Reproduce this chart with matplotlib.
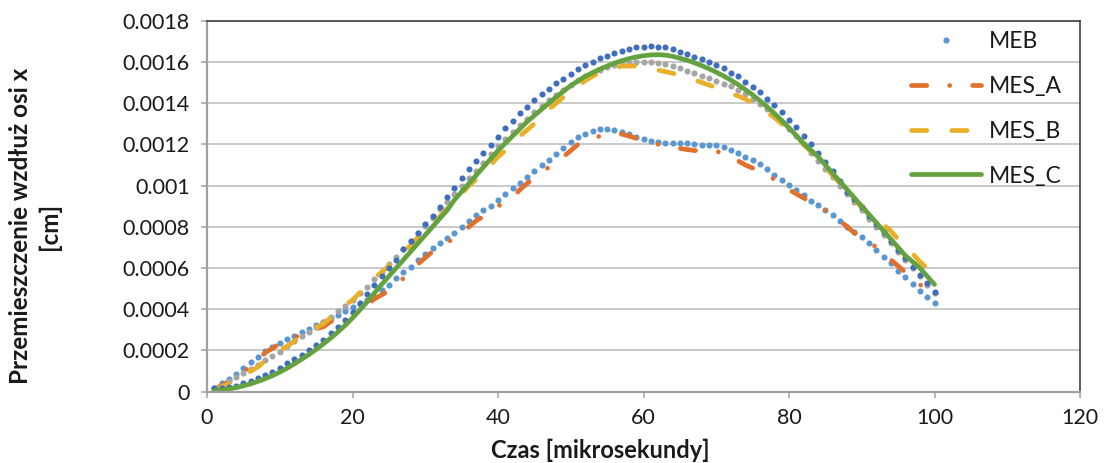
import matplotlib
matplotlib.use("Agg")
import matplotlib.pyplot as plt
from matplotlib.ticker import FixedLocator, FixedFormatter

plt.rcParams['font.family'] = ['Lato', 'DejaVu Sans']
plt.rcParams['lines.scale_dashes'] = False

# time [microseconds]
czas = list(range(1, 101))

meb = [0.00002, 0.00004, 0.00006, 0.000084, 0.000117, 0.000146, 0.00017, 0.000199, 0.000218, 0.000235,
       0.000254, 0.000272, 0.00029, 0.000306, 0.000322, 0.00034, 0.000357, 0.000374, 0.000392, 0.00041,
       0.000427, 0.000444, 0.000461, 0.000493, 0.00052, 0.00055, 0.00058, 0.000607, 0.00064, 0.00067,
       0.000696, 0.00072, 0.000744, 0.00077, 0.0008, 0.00083, 0.000855, 0.000882, 0.000903, 0.00093,
       0.000958, 0.000987, 0.001014, 0.001042, 0.001071, 0.001098, 0.001126, 0.001155, 0.001184, 0.001212,
       0.001234, 0.001252, 0.001266, 0.001275, 0.001275, 0.001268, 0.001259, 0.001249, 0.001237, 0.001226,
       0.001218, 0.001212, 0.001207, 0.001207, 0.001207, 0.001205, 0.0012, 0.001198, 0.001196, 0.001195,
       0.001186, 0.001173, 0.00116, 0.00114, 0.001124, 0.001105, 0.00108, 0.001053, 0.001027, 0.001003,
       0.00098, 0.000953, 0.000927, 0.000906, 0.00088, 0.000855, 0.00083, 0.000801, 0.000775, 0.000749,
       0.00072, 0.000688, 0.000655, 0.000623, 0.000587, 0.000555, 0.000523, 0.00049, 0.000461, 0.000429]

mes_a = [0.00001, 0.00003, 0.00005, 0.00008, 0.0001, 0.00012, 0.00015, 0.00019, 0.00021, 0.000235,
         0.000255, 0.000265, 0.000275, 0.00029, 0.000305, 0.000315, 0.00034, 0.000355, 0.00037, 0.00038,
         0.00039, 0.00042, 0.00045, 0.00047, 0.00049, 0.00052, 0.00055, 0.00059, 0.00062, 0.00065,
         0.00068, 0.0007, 0.00072, 0.00075, 0.00077, 0.0008, 0.00083, 0.00085, 0.00088, 0.0009,
         0.00092, 0.00094, 0.00098, 0.00101, 0.00104, 0.00106, 0.00109, 0.00111, 0.00114, 0.00117,
         0.0012, 0.00121, 0.00123, 0.00124, 0.00125, 0.00125, 0.00125, 0.00124, 0.00123, 0.00122,
         0.00121, 0.0012, 0.00119, 0.00118, 0.00118, 0.001175, 0.00117, 0.00117, 0.00117, 0.001165,
         0.00116, 0.00114, 0.00112, 0.0011, 0.001085, 0.00107, 0.00105, 0.00103, 0.001005, 0.00098,
         0.00096, 0.00094, 0.00092, 0.0009, 0.00088, 0.00086, 0.00083, 0.0008, 0.00077, 0.00075,
         0.00073, 0.0007, 0.00068, 0.00064, 0.00061, 0.00058, 0.00054, 0.00052, 0.00049, 0.00046]

seria_szara = [0.00001, 0.00003, 0.00005, 0.00007, 0.00009, 0.00011, 0.00013, 0.000154, 0.000175, 0.000194,
               0.00022, 0.000245, 0.00027, 0.00029, 0.000315, 0.00034, 0.000364, 0.00039, 0.000415, 0.000445,
               0.000478, 0.00051, 0.000545, 0.000582, 0.00062, 0.000655, 0.000693, 0.00073, 0.000768, 0.000806,
               0.000845, 0.000884, 0.000922, 0.00096, 0.000998, 0.001036, 0.001073, 0.00111, 0.001152, 0.00119,
               0.001225, 0.00126, 0.001293, 0.001325, 0.001355, 0.001385, 0.001413, 0.00144, 0.001465, 0.001488,
               0.00151, 0.00153, 0.001548, 0.001563, 0.001575, 0.001585, 0.001592, 0.001597, 0.0016, 0.0016,
               0.0016, 0.001595, 0.001588, 0.00158, 0.00157, 0.001556, 0.001545, 0.001532, 0.00152, 0.001508,
               0.001495, 0.001482, 0.001465, 0.001445, 0.001422, 0.001398, 0.00137, 0.00134, 0.001308, 0.001274,
               0.00124, 0.0012, 0.00116, 0.00112, 0.00108, 0.00104, 0.001, 0.00096, 0.00092, 0.00088,
               0.00084, 0.0008, 0.00076, 0.00072, 0.00068, 0.00064, 0.0006, 0.00056, 0.00052, 0.00048]

mes_b = [0.00001, 0.00002, 0.00004, 0.00006, 0.00008, 0.0001, 0.00012, 0.00015, 0.00018, 0.0002,
         0.00022, 0.000245, 0.00027, 0.00029, 0.00031, 0.00033, 0.00036, 0.00039, 0.00042, 0.000445,
         0.00048, 0.000515, 0.00055, 0.00058, 0.00061, 0.00064, 0.00068, 0.00071, 0.00075, 0.00078,
         0.00082, 0.00085, 0.00089, 0.00093, 0.00096, 0.001, 0.00103, 0.00107, 0.0011, 0.00114,
         0.00117, 0.0012, 0.00124, 0.00127, 0.0013, 0.00133, 0.00137, 0.0014, 0.00143, 0.00146,
         0.00148, 0.00151, 0.00153, 0.00155, 0.00156, 0.00157, 0.00158, 0.00158, 0.00158, 0.00158,
         0.00157, 0.00156, 0.001553, 0.001545, 0.001535, 0.001525, 0.001513, 0.0015, 0.001488, 0.001475,
         0.001462, 0.001448, 0.001435, 0.00142, 0.0014, 0.00138, 0.001355, 0.00133, 0.0013, 0.00127,
         0.001235, 0.0012, 0.001165, 0.00113, 0.00109, 0.00105, 0.00101, 0.00097, 0.00093, 0.000895,
         0.00086, 0.000835, 0.00081, 0.00078, 0.00074, 0.0007, 0.00067, 0.00063, 0.0006, 0.00056]

seria_granatowa = [0.000016, 0.00002, 0.000024, 0.00003, 0.00004, 0.000052, 0.000065, 0.00008, 0.000097, 0.000117,
                   0.000138, 0.00016, 0.00018, 0.0002, 0.000225, 0.00025, 0.000283, 0.000315, 0.00035, 0.000385,
                   0.00043, 0.000475, 0.00052, 0.00056, 0.0006, 0.00064, 0.00069, 0.000731, 0.000768, 0.000812,
                   0.000852, 0.000898, 0.000946, 0.00099, 0.001035, 0.00108, 0.00112, 0.00116, 0.001197, 0.001237,
                   0.001278, 0.001315, 0.001351, 0.00138, 0.001414, 0.001444, 0.001469, 0.001496, 0.001517, 0.001541,
                   0.001564, 0.001585, 0.001601, 0.001618, 0.00163, 0.001645, 0.001655, 0.001664, 0.001671, 0.001674,
                   0.001675, 0.001674, 0.001671, 0.001663, 0.00165, 0.001639, 0.001625, 0.001613, 0.001601, 0.001585,
                   0.001569, 0.001548, 0.001532, 0.001505, 0.00148, 0.001452, 0.001422, 0.00139, 0.001355, 0.00132,
                   0.001282, 0.001242, 0.0012, 0.001158, 0.001114, 0.00107, 0.00102, 0.00097, 0.000933, 0.000895,
                   0.000852, 0.000814, 0.000775, 0.000733, 0.000688, 0.000647, 0.000606, 0.000566, 0.000526, 0.000485]

mes_c = [0.000004, 0.000008, 0.000013, 0.00002, 0.000028, 0.000038, 0.00005, 0.000063, 0.000078, 0.000095,
         0.000114, 0.000135, 0.000157, 0.00018, 0.000205, 0.000232, 0.00026, 0.00029, 0.000322, 0.000358,
         0.000396, 0.000436, 0.000478, 0.00052, 0.00056, 0.0006, 0.00064, 0.00068, 0.00072, 0.00076,
         0.0008, 0.00084, 0.00088, 0.00093, 0.00097, 0.00101, 0.00105, 0.00109, 0.00113, 0.00117,
         0.001205, 0.00124, 0.001275, 0.00131, 0.00134, 0.00137, 0.0014, 0.00143, 0.001458, 0.001485,
         0.001508, 0.00153, 0.001548, 0.001565, 0.00158, 0.001594, 0.001606, 0.001616, 0.001624, 0.00163,
         0.001634, 0.001635, 0.001633, 0.001627, 0.001618, 0.001608, 0.001596, 0.001582, 0.001567, 0.00155,
         0.001532, 0.001512, 0.00149, 0.001466, 0.00144, 0.001412, 0.001382, 0.00135, 0.001316, 0.00128,
         0.001243, 0.001205, 0.001172, 0.00114, 0.0011, 0.00106, 0.00102, 0.00098, 0.00094, 0.0009,
         0.00086, 0.00082, 0.00078, 0.00074, 0.0007, 0.00066, 0.00063, 0.0006, 0.00056, 0.00052]

y_ticks = [0, 0.0002, 0.0004, 0.0006, 0.0008, 0.001, 0.0012, 0.0014, 0.0016, 0.0018]
y_tick_labels = ['0', '0.0002', '0.0004', '0.0006', '0.0008', '0.001', '0.0012', '0.0014', '0.0016', '0.0018']
x_ticks = [0, 20, 40, 60, 80, 100, 120]
x_tick_labels = ['0', '20', '40', '60', '80', '100', '120']

W, H = 1107, 463
fig = plt.figure(figsize=(W / 100, H / 100), dpi=100)
ax = fig.add_axes([207 / W, 1 - 391.7 / H, (1080 - 207) / W, (391.7 - 20.7) / H])

lw = 3.4
ms = 4.4
c_meb = '#5A96CF'
c_a = '#E0702C'
c_grey = '#A5A5A5'
c_b = '#E9AF28'
c_dark = '#3F6DBF'
c_c = '#64A23F'
txt = '#1A1A1A'

ax.plot(czas, meb, linestyle='none', marker='o', ms=ms, color=c_meb, mew=0, label='MEB')
ax.plot(czas, mes_a, color=c_a, lw=lw, dashes=(11, 16.5, 0.01, 16.5),
        dash_capstyle='round', solid_capstyle='round', label='MES_A')
ax.plot(czas, seria_szara, linestyle='none', marker='o', ms=ms, color=c_grey, mew=0)
ax.plot(czas, mes_b, color=c_b, lw=lw, dashes=(11, 18),
        dash_capstyle='round', label='MES_B')
ax.plot(czas, seria_granatowa, linestyle='none', marker='o', ms=ms, color=c_dark, mew=0)
ax.plot(czas, mes_c, color=c_c, lw=lw, solid_capstyle='round', label='MES_C')

ax.set_xlim(0, 120)
ax.set_ylim(0, 0.0018)
ax.xaxis.set_major_locator(FixedLocator(x_ticks))
ax.xaxis.set_major_formatter(FixedFormatter(x_tick_labels))
ax.yaxis.set_major_locator(FixedLocator(y_ticks))
ax.yaxis.set_major_formatter(FixedFormatter(y_tick_labels))

ax.grid(axis='y', color='#BBBBBB', lw=1.1)
ax.set_axisbelow(True)

for side in ('top', 'right'):
    ax.spines[side].set_color('#404040')
    ax.spines[side].set_linewidth(1.2)
for side in ('left', 'bottom'):
    ax.spines[side].set_color('#A0A0A0')
    ax.spines[side].set_linewidth(1.6)

ax.tick_params(axis='both', which='major', direction='out', length=4.5, width=1.1,
               color='#A0A0A0', labelsize=15.5, labelcolor=txt)
ax.tick_params(axis='y', pad=8)
ax.tick_params(axis='x', pad=7)

leg = ax.legend(loc='upper left', bbox_to_anchor=(911 / W, 1 - 31 / H),
                bbox_transform=fig.transFigure, frameon=False, fontsize=16.5,
                handlelength=3.05, handletextpad=0.35, labelspacing=1.04,
                borderpad=0, borderaxespad=0, markerscale=1.0, numpoints=1)
for t in leg.get_texts():
    t.set_color(txt)

fig.text(600 / W, 1 - 450 / H, 'Czas [mikrosekundy]', ha='center', va='center',
         fontsize=17, fontweight='bold', color=txt)
fig.text(35 / W, 1 - 226 / H, 'Przemieszczenie wzdłuż osi x\n[cm]', ha='center', va='center',
         rotation=90, fontsize=17.5, fontweight='bold', color=txt, linespacing=1.25,
         multialignment='center')

fig.savefig('out.png', dpi=100)
